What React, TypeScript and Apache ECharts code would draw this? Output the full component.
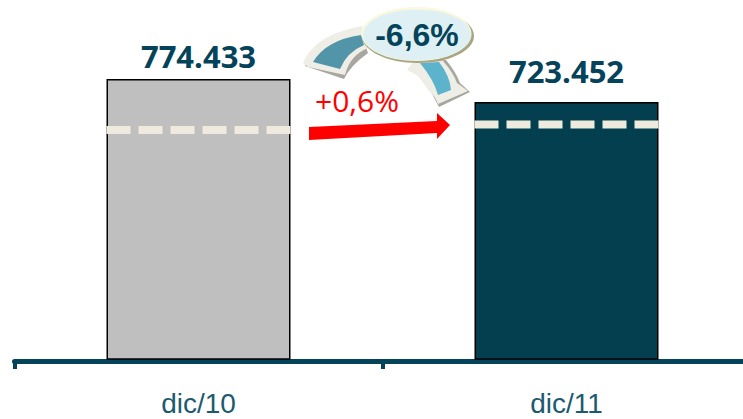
import React, { useEffect, useRef } from "react";
import * as echarts from "echarts";

const categories = ["dic/10", "dic/11"];
const totals = [774433, 723452];
const totalLabels = ["774.433", "723.452"];
const labelDistances = [8, 16];
const dashedLevels = [661400, 673600];
const barColors = ["#bfbfbf", "#043f50"];

const NAVY = "#04435a";
const shape = (name: string, d: string) => {
  echarts.graphic.registerShape(name, echarts.graphic.extendPath(d, {}));
};

shape("arcLeftShadow", "M305 66 L344 79 Q350 66 368 53 L360 30 Q316 38 305 66 Z");
shape("arcLeftEdge", "M303 63 Q315 34 362 26 L368 48 Q350 55 345 75 L308 67 Z");
shape("arcLeftFill", "M313 62 Q326 40 361 35 L364 45 Q347 52 340 69 Z");
shape("arcRightShadow", "M420 62 L446 60 Q456 72 460 83 L470 92 L439 107 L431 92 L420 78 Z");
shape("arcRightEdge", "M413 62 L443 61 Q453 72 457 83 L468 91 L438 104 Q435 96 428 90 Q424 83 418 76 L407 70 Z");
shape("arcRightFill", "M420 63 L439 62 Q450 76 451 90 L438 95 Q434 80 420 63 Z");

export default function App() {
  const ref = useRef<HTMLDivElement>(null);
  useEffect(() => {
    const chart = echarts.init(ref.current!, null, { renderer: "svg" });
    chart.setOption({
      animation: false,
      backgroundColor: "#ffffff",
      grid: { left: 14.5, width: 736, top: 79, bottom: 60, outerBoundsMode: "none" },
      xAxis: {
        type: "category",
        data: categories,
        offset: 2,
        axisLine: { lineStyle: { color: NAVY, width: 5 } },
        axisTick: { show: true, alignWithLabel: false, length: 8, lineStyle: { color: NAVY, width: 4 } },
        axisLabel: { color: "#1d5a70", fontFamily: "Liberation Sans", fontSize: 28, margin: 28 },
      },
      yAxis: { type: "value", min: 153800, max: 774433, show: false, splitLine: { show: false } },
      series: [
        {
          type: "bar",
          barWidth: "50%",
          data: totals.map((v, i) => ({
            value: v,
            itemStyle: { color: barColors[i], borderColor: "#000000", borderWidth: 1.5 },
            label: {
              show: true,
              position: "top",
              distance: labelDistances[i],
              formatter: totalLabels[i],
              color: NAVY,
              fontFamily: "Open Sans",
              fontWeight: "bold",
              fontSize: 31,
            },
          })),
        },
        {
          type: "custom",
          z: 5,
          data: dashedLevels.map((v, i) => [i, v]),
          renderItem: (_: any, api: any) => {
            const p = api.coord([api.value(0), api.value(1)]);
            const half = api.size([1, 0])[0] * 0.25;
            return {
              type: "line",
              shape: { x1: p[0] - half, y1: p[1], x2: p[0] + half, y2: p[1] },
              style: { stroke: "#eeeade", lineWidth: 8, lineDash: [24, 8] },
            };
          },
        },
      ],
      graphic: [
        { type: "arcLeftShadow", style: { fill: "#a7a7a0" }, z: 10 },
        { type: "arcLeftEdge", style: { fill: "#eeeee6" }, z: 11 },
        { type: "arcLeftFill", style: { fill: "#5395a8" }, z: 12 },
        { type: "arcRightShadow", style: { fill: "#a7a7a0" }, z: 10 },
        { type: "arcRightEdge", style: { fill: "#eeeee6" }, z: 11 },
        { type: "arcRightFill", style: { fill: "#5bb3cc" }, z: 12 },
        { type: "ellipse", z: 13, shape: { cx: 418, cy: 36, rx: 56, ry: 27 }, style: { fill: "#a9a67f" } },
        { type: "ellipse", z: 14, shape: { cx: 416.5, cy: 34, rx: 55, ry: 27 }, style: { fill: "#fbf8dc" } },
        { type: "ellipse", z: 15, shape: { cx: 417, cy: 35, rx: 54, ry: 25.5 }, style: { fill: "#dff0f5" } },
        {
          type: "text", z: 16, x: 417, y: 35,
          style: { text: "-6,6%", fill: NAVY, fontFamily: "Liberation Sans", fontWeight: "bold", fontSize: 32, align: "center", verticalAlign: "middle" },
        },
        {
          type: "polygon", z: 10,
          shape: { points: [[309, 127], [437, 121], [437, 113], [450, 125], [437, 139], [437, 133], [309, 140]] },
          style: { fill: "#ff0000" },
        },
        {
          type: "text", z: 10, x: 357, y: 100,
          style: { text: "+0,6%", fill: "#ff0000", fontFamily: "Open Sans", fontSize: 30, align: "center", verticalAlign: "middle" },
        },
      ],
    });
    return () => chart.dispose();
  }, []);
  return <div ref={ref} style={{ position: "fixed", left: 0, top: 0, width: 743, height: 419 }} />;
}
